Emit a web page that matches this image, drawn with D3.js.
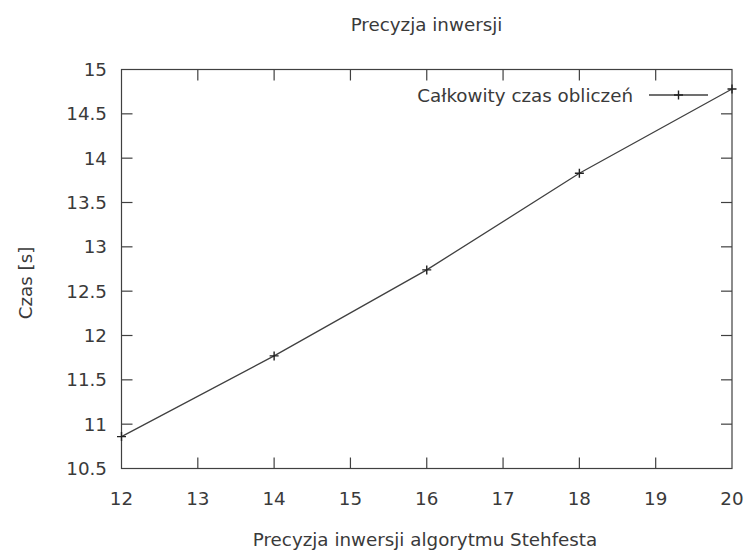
<!DOCTYPE html>
<html lang="pl">
<head>
<meta charset="UTF-8">
<script src="https://d3js.org/d3.v7.min.js"></script>
<style>
body { margin: 0; background: #fff; }
text { font-family: "DejaVu Sans", Verdana, sans-serif; fill: #3a3a3a; }
</style>
</head>
<body>
<svg width="750" height="552"></svg>
<script>
const precision = [12, 14, 16, 18, 20];
const totalTime = [10.86, 11.77, 12.74, 13.83, 14.78];
const xTicks = [12, 13, 14, 15, 16, 17, 18, 19, 20];
const yTicks = [10.5, 11, 11.5, 12, 12.5, 13, 13.5, 14, 14.5, 15];

const svg = d3.select("svg");
const pLeft = 121.5, pRight = 732, pTop = 69.5, pBottom = 468.5;
const fs = 18.3;
const ink = "#404040";

const x = d3.scaleLinear().domain([12, 20]).range([pLeft, pRight]);
const y = d3.scaleLinear().domain([10.5, 15]).range([pBottom, pTop]);

// ramka
svg.append("rect")
  .attr("x", pLeft).attr("y", pTop)
  .attr("width", pRight - pLeft).attr("height", pBottom - pTop)
  .attr("fill", "none").attr("stroke", ink).attr("stroke-width", 1.2);

// podziałki do środka, na wszystkich bokach
const tl = 11;
const g = svg.append("g").attr("stroke", ink).attr("stroke-width", 1.2);
xTicks.slice(1, -1).forEach(t => {
  g.append("line").attr("x1", x(t)).attr("x2", x(t)).attr("y1", pBottom).attr("y2", pBottom - tl);
  g.append("line").attr("x1", x(t)).attr("x2", x(t)).attr("y1", pTop).attr("y2", pTop + tl);
});
yTicks.slice(1, -1).forEach(t => {
  g.append("line").attr("x1", pLeft).attr("x2", pLeft + tl).attr("y1", y(t)).attr("y2", y(t));
  g.append("line").attr("x1", pRight).attr("x2", pRight - tl).attr("y1", y(t)).attr("y2", y(t));
});

// etykiety osi
svg.selectAll(".xl").data(xTicks).enter().append("text")
  .attr("x", d => x(d)).attr("y", 505)
  .attr("text-anchor", "middle").attr("font-size", fs)
  .text(d => d);
svg.selectAll(".yl").data(yTicks).enter().append("text")
  .attr("x", 107).attr("y", d => y(d)).attr("dy", "0.36em")
  .attr("text-anchor", "end").attr("font-size", fs)
  .text(d => d);

svg.append("text").attr("x", 426.5).attr("y", 31)
  .attr("text-anchor", "middle").attr("font-size", fs)
  .text("Precyzja inwersji");
svg.append("text").attr("x", 425).attr("y", 546)
  .attr("text-anchor", "middle").attr("font-size", fs)
  .text("Precyzja inwersji algorytmu Stehfesta");
svg.append("text")
  .attr("transform", "translate(32,283) rotate(-90)")
  .attr("text-anchor", "middle").attr("font-size", fs)
  .text("Czas [s]");

// seria
const pts = precision.map((p, i) => [p, totalTime[i]]);
svg.append("path")
  .datum(pts)
  .attr("fill", "none").attr("stroke", ink).attr("stroke-width", 1.3)
  .attr("d", d3.line().x(d => x(d[0])).y(d => y(d[1])));

function cross(cx, cy) {
  const s = 4.5;
  svg.append("path")
    .attr("d", `M${cx - s},${cy}H${cx + s}M${cx},${cy - s}V${cy + s}`)
    .attr("stroke", "#222").attr("stroke-width", 1.4);
}
pts.forEach(d => cross(x(d[0]), y(d[1])));

// legenda
svg.append("text").attr("x", 633).attr("y", 95).attr("dy", "0.36em")
  .attr("text-anchor", "end").attr("font-size", fs)
  .text("Całkowity czas obliczeń");
svg.append("line").attr("x1", 649).attr("x2", 708).attr("y1", 95).attr("y2", 95)
  .attr("stroke", ink).attr("stroke-width", 1.3);
cross(678.5, 95);
</script>
</body>
</html>
